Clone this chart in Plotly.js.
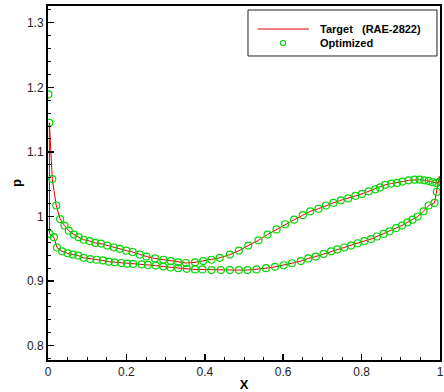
<!DOCTYPE html>
<html>
<head>
<meta charset="utf-8">
<script src="https://cdn.plot.ly/plotly-3.0.1.min.js"></script>
<style>
  html, body { margin: 0; padding: 0; background: #fff; }
  #chart { width: 444px; height: 392px; }
</style>
</head>
<body>
<div id="chart"></div>
<script>
// Surface pressure ratio p along chord X, RAE-2822 airfoil.
// Branch that starts high near the leading edge and peaks near the trailing edge
const upperX = [0.0035, 0.011, 0.021, 0.031, 0.042, 0.053, 0.066, 0.078, 0.091, 0.106,
  0.121, 0.135, 0.151, 0.168, 0.183, 0.200, 0.216, 0.234, 0.251, 0.273,
  0.294, 0.313, 0.332, 0.352, 0.375, 0.396, 0.417, 0.438, 0.464, 0.487,
  0.511, 0.537, 0.560, 0.583, 0.605, 0.628, 0.650, 0.669, 0.690, 0.709,
  0.728, 0.747, 0.766, 0.784, 0.801, 0.818, 0.835, 0.847, 0.860, 0.876,
  0.890, 0.904, 0.920, 0.935, 0.948, 0.960, 0.971, 0.981, 0.991, 1.000];
const upperP = [1.145, 1.058, 1.017, 0.996, 0.986, 0.978, 0.972, 0.968, 0.964, 0.962,
  0.959, 0.958, 0.955, 0.952, 0.950, 0.947, 0.945, 0.941, 0.938, 0.935,
  0.933, 0.931, 0.929, 0.928, 0.929, 0.931, 0.933, 0.936, 0.941, 0.947,
  0.955, 0.963, 0.972, 0.980, 0.988, 0.995, 1.002, 1.008, 1.012, 1.017,
  1.021, 1.025, 1.028, 1.032, 1.035, 1.039, 1.042, 1.045, 1.049, 1.051,
  1.052, 1.054, 1.056, 1.057, 1.057, 1.056, 1.055, 1.053, 1.052, 1.054];

// Branch that drops below 1 right after the leading edge
const lowerX = [0.004, 0.015, 0.023, 0.036, 0.050, 0.063, 0.077, 0.091, 0.108, 0.124,
  0.140, 0.155, 0.170, 0.187, 0.202, 0.217, 0.239, 0.255, 0.275, 0.294,
  0.313, 0.332, 0.354, 0.375, 0.394, 0.417, 0.441, 0.464, 0.487, 0.509,
  0.532, 0.556, 0.579, 0.601, 0.622, 0.645, 0.664, 0.683, 0.703, 0.722,
  0.738, 0.756, 0.773, 0.790, 0.807, 0.824, 0.839, 0.856, 0.871, 0.888,
  0.903, 0.917, 0.930, 0.943, 0.958, 0.971, 0.986, 0.992];
const lowerP = [0.973, 0.968, 0.952, 0.946, 0.943, 0.941, 0.9395, 0.936, 0.934, 0.933,
  0.932, 0.930, 0.929, 0.928, 0.927, 0.9265, 0.926, 0.925, 0.924, 0.9225,
  0.921, 0.920, 0.919, 0.918, 0.918, 0.917, 0.917, 0.917, 0.917, 0.917,
  0.918, 0.920, 0.922, 0.9245, 0.9276, 0.931, 0.935, 0.938, 0.942, 0.946,
  0.949, 0.952, 0.955, 0.9586, 0.962, 0.965, 0.969, 0.973, 0.977, 0.982,
  0.986, 0.991, 0.995, 1.000, 1.008, 1.017, 1.021, 1.038];

// Trailing-edge closure of the target curve
const targetTeX = [0.998];
const targetTeP = [1.062];

// Extra stagnation sample of the optimized shape
const optStagX = [0.001];
const optStagP = [1.189];

const legendNames = ['Target\u00a0\u00a0\u00a0(RAE-2822)', 'Optimized'];

const lineColor = 'rgb(225,0,0)';
const markColor = 'rgb(0,215,0)';
const font = 'Liberation Sans, Arial, sans-serif';

// Target: one continuous line TE -> lower -> LE -> upper -> TE
const tX = targetTeX.concat(lowerX.slice().reverse(), upperX, targetTeX);
const tP = targetTeP.concat(lowerP.slice().reverse(), upperP, targetTeP);

const oX = optStagX.concat(upperX, lowerX);
const oP = optStagP.concat(upperP, lowerP);

const traces = [
  {
    x: tX, y: tP, type: 'scatter', mode: 'lines', name: legendNames[0],
    line: { color: lineColor, width: 1 }
  },
  {
    x: oX, y: oP, type: 'scatter', mode: 'markers', name: legendNames[1],
    marker: { symbol: 'circle-open', size: 7, color: markColor, line: { width: 1.2 } }
  }
];

const tickFont = { family: font, size: 12, color: '#222' };

// Boxed key in the upper-right corner (paper coordinates)
const keyShapes = [
  { type: 'rect', xref: 'paper', yref: 'paper', x0: 0.5102, x1: 0.9923, y0: 0.8588, y1: 0.9887,
    line: { color: '#222', width: 1 }, fillcolor: '#fff', layer: 'above' },
  { type: 'line', xref: 'paper', yref: 'paper', x0: 0.5357, x1: 0.6658, y0: 0.935, y1: 0.935,
    line: { color: lineColor, width: 1 }, layer: 'above' },
  { type: 'circle', xref: 'paper', yref: 'paper', x0: 0.5931, x1: 0.6059, y0: 0.8884, y1: 0.9025,
    line: { color: markColor, width: 1.2 }, layer: 'above' }
];
const keyText = [
  { xref: 'paper', yref: 'paper', x: 0.6888, y: 0.935, xanchor: 'left', yanchor: 'middle',
    text: '<b>' + legendNames[0] + '</b>', showarrow: false, font: { family: font, size: 11, color: '#000' } },
  { xref: 'paper', yref: 'paper', x: 0.6888, y: 0.8955, xanchor: 'left', yanchor: 'middle',
    text: '<b>' + legendNames[1] + '</b>', showarrow: false, font: { family: font, size: 11, color: '#000' } }
];

const layout = {
  width: 444, height: 392,
  margin: { l: 48, r: 4, t: 6, b: 32 },
  paper_bgcolor: '#fff', plot_bgcolor: '#fff',
  showlegend: false,
  shapes: keyShapes,
  annotations: keyText,
  xaxis: {
    range: [0, 1], tick0: 0, dtick: 0.2,
    ticks: 'inside', ticklen: 6, tickwidth: 1.5, tickcolor: '#000',
    minor: { dtick: 0.05, ticks: 'inside', ticklen: 3, tickwidth: 1, tickcolor: '#000' },
    showline: true, linewidth: 2, linecolor: '#000', mirror: true,
    showgrid: false, zeroline: false,
    tickfont: tickFont,
    title: { text: '<b>X</b>', font: { family: font, size: 13, color: '#000' }, standoff: 1 }
  },
  yaxis: {
    range: [0.7778, 1.3259], tick0: 0.8, dtick: 0.1,
    ticks: 'inside', ticklen: 6, tickwidth: 1.5, tickcolor: '#000',
    minor: { dtick: 0.02, ticks: 'inside', ticklen: 3, tickwidth: 1, tickcolor: '#000' },
    showline: true, linewidth: 2, linecolor: '#000', mirror: true,
    showgrid: false, zeroline: false,
    tickfont: tickFont,
    title: { text: '<b>p</b>', font: { family: font, size: 13, color: '#000' }, standoff: 2 }
  }
};

Plotly.newPlot('chart', traces, layout, { displayModeBar: false, staticPlot: true });
</script>
</body>
</html>
